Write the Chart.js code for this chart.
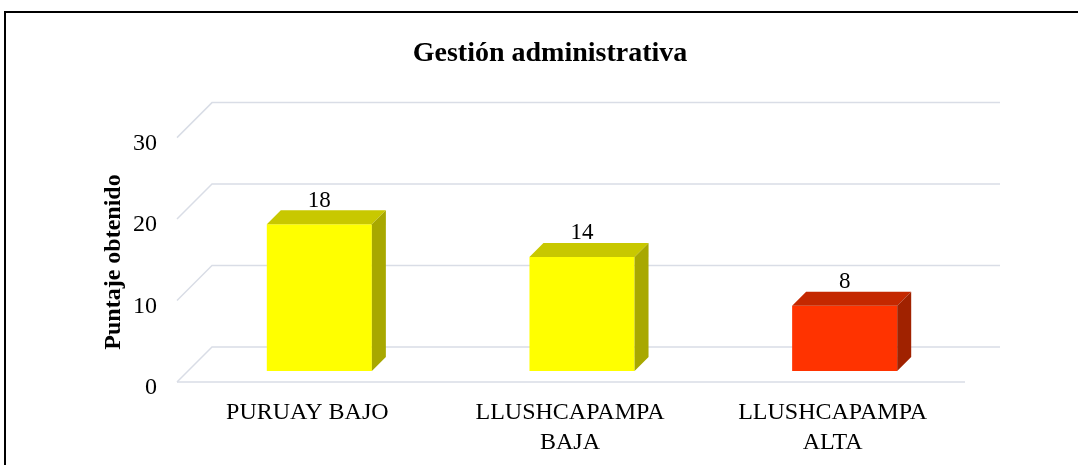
<!DOCTYPE html>
<html>
<head>
<meta charset="utf-8">
<script src="https://cdn.jsdelivr.net/npm/chart.js@4.4.1/dist/chart.umd.min.js"></script>
<style>
	body { margin: 0; overflow: hidden; background: #fff; }
	#wrapper {
		position: absolute;
		left: 4px;
		top: 11px;
		width: 1088px;
		height: 470px;
		border: 2px solid #000;
		background: #fff;
	}
	canvas { display: block; }
</style>
</head>
<body>
<div id="wrapper">
	<canvas id="grafico" width="1088" height="470"></canvas>
</div>
<script>
"use strict";

// dati
const categorie = ["PURUAY BAJO", ["LLUSHCAPAMPA", "BAJA"], ["LLUSHCAPAMPA", "ALTA"]];
const punteggi = [18, 14, 8];
const tickY = [0, 10, 20, 30];

const titolo = "Gestión administrativa";
const titoloY = "Puntaje obtenido";

// colori: fronte, sopra, lato
const coloriFronte = ["#FFFF00", "#FFFF00", "#FF3300"];
const coloriSopra = ["#C8C800", "#C8C800", "#C42800"];
const coloriLato = ["#A8A800", "#A8A800", "#A02200"];

const FONT = "'Liberation Serif', 'Times New Roman', serif";
const PROF = 14;      // profondita barre
const DIETRO = 24;    // piano di fondo
const DAVANTI = 11;   // bordo anteriore pavimento
const GRIGIO = "#d9dde6";

const effetto3d = {
	id: "effetto3d",
	beforeDatasetsDraw(chart) {
		const ctx = chart.ctx;
		const area = chart.chartArea;
		const y = chart.scales.y;
		ctx.save();
		ctx.strokeStyle = GRIGIO;
		ctx.lineWidth = 1.5;
		for (const v of tickY) {
			const py = y.getPixelForValue(v);
			ctx.beginPath();
			ctx.moveTo(area.left - DAVANTI, py + DAVANTI);
			ctx.lineTo(area.left + DIETRO, py - DIETRO);
			ctx.lineTo(area.right + DIETRO, py - DIETRO);
			ctx.stroke();
		}
		// bordo anteriore del pavimento
		const p0 = y.getPixelForValue(0);
		ctx.beginPath();
		ctx.moveTo(area.left - DAVANTI, p0 + DAVANTI);
		ctx.lineTo(area.right - DAVANTI, p0 + DAVANTI);
		ctx.stroke();
		ctx.restore();
	},
	afterDatasetsDraw(chart) {
		const ctx = chart.ctx;
		const barre = chart.getDatasetMeta(0).data;
		ctx.save();
		barre.forEach(function (bar, i) {
			const p = bar.getProps(["x", "y", "base", "width"], true);
			const sx = p.x - p.width / 2;
			const dx = p.x + p.width / 2;
			// faccia superiore
			ctx.fillStyle = coloriSopra[i];
			ctx.beginPath();
			ctx.moveTo(sx, p.y);
			ctx.lineTo(sx + PROF, p.y - PROF);
			ctx.lineTo(dx + PROF, p.y - PROF);
			ctx.lineTo(dx, p.y);
			ctx.closePath();
			ctx.fill();
			// faccia laterale
			ctx.fillStyle = coloriLato[i];
			ctx.beginPath();
			ctx.moveTo(dx, p.y);
			ctx.lineTo(dx + PROF, p.y - PROF);
			ctx.lineTo(dx + PROF, p.base - PROF);
			ctx.lineTo(dx, p.base);
			ctx.closePath();
			ctx.fill();
			// etichetta valore
			ctx.fillStyle = "#000";
			ctx.font = "23px " + FONT;
			ctx.textAlign = "center";
			ctx.textBaseline = "bottom";
			ctx.fillText(String(punteggi[i]), p.x, p.y - PROF + 2);
		});
		ctx.restore();
	},
	afterDraw(chart) {
		const ctx = chart.ctx;
		ctx.save();
		ctx.translate(108, 249);
		ctx.rotate(-Math.PI / 2);
		ctx.fillStyle = "#000";
		ctx.font = "bold 24px " + FONT;
		ctx.textAlign = "center";
		ctx.textBaseline = "middle";
		ctx.fillText(titoloY, 0, 0);
		ctx.restore();
	}
};

const canvas = document.getElementById("grafico");
const chart = new Chart(canvas, {
	type: "bar",
	data: {
		labels: categorie,
		datasets: [{
			data: punteggi,
			backgroundColor: coloriFronte,
			borderWidth: 0,
			barPercentage: 1,
			categoryPercentage: 0.4
		}]
	},
	options: {
		responsive: false,
		animation: false,
		devicePixelRatio: 1,
		layout: { padding: { left: 0, right: 0, top: 0, bottom: 12 } },
		plugins: {
			legend: { display: false },
			tooltip: { enabled: false },
			title: {
				display: true,
				text: titolo,
				color: "#000",
				font: { family: FONT, size: 28, weight: "bold" },
				padding: { top: 24, bottom: 56 }
			}
		},
		scales: {
			x: {
				grid: { display: false },
				border: { display: false },
				ticks: {
					color: "#000",
					font: { family: FONT, size: 24, lineHeight: 1.25 },
					padding: 19,
					labelOffset: -12,
					maxRotation: 0,
					autoSkip: false
				},
				afterFit(scale) { scale.height = 100; }
			},
			y: {
				min: 0,
				max: 30,
				grid: { display: false },
				border: { display: false },
				ticks: {
					stepSize: 10,
					color: "#000",
					font: { family: FONT, size: 24 },
					padding: 23,
					labelOffset: 17
				},
				afterFit(scale) { scale.width = 182; }
			},
			// asse vuoto a destra, solo per lo spazio
			destra: {
				position: "right",
				min: 0,
				max: 30,
				grid: { display: false },
				border: { display: false },
				ticks: { display: false },
				afterFit(scale) { scale.width = 118; }
			}
		}
	},
	plugins: [effetto3d]
});
</script>
</body>
</html>
